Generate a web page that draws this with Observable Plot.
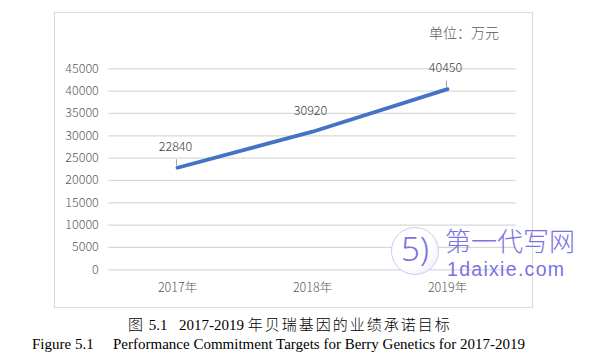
<!DOCTYPE html>
<html><head><meta charset="utf-8">
<script src="https://cdn.jsdelivr.net/npm/d3@7"></script>
<script src="https://cdn.jsdelivr.net/npm/@observablehq/plot@0.6"></script>
<style>
html,body{margin:0;padding:0;background:#fff;}
#wrap{position:relative;width:593px;height:353px;overflow:hidden;font-family:"Noto Sans CJK SC",sans-serif;}
#box{position:absolute;left:54px;top:12px;width:477px;height:294px;border:1px solid #d9d9d9;}
#chart{position:absolute;left:0;top:0;}
#chart text{font-weight:300;}
#unit{position:absolute;left:429px;top:23px;font-size:14px;line-height:18px;color:#595959;font-weight:300;}
.cap{position:absolute;font-family:"Liberation Serif","Noto Sans CJK SC",serif;font-size:15px;line-height:16px;color:#000;white-space:pre;}
.cjk{letter-spacing:2px;font-weight:300;}
#wm{position:absolute;left:445px;top:227px;color:#7a73e2;white-space:pre;font-weight:300;font-size:26px;line-height:26px;}
#wm .dom{display:block;margin-top:8px;margin-left:2px;font-family:"Liberation Sans",sans-serif;font-size:19.5px;line-height:16px;letter-spacing:1.3px;font-weight:400;}
#logo{position:absolute;left:391px;top:227px;width:46px;height:46px;border-radius:50%;border:1.5px solid #cdcaf5;background:radial-gradient(circle at 35% 35%, #ffffff 55%, #e6e4fb 100%);}
#logo span{position:absolute;left:9px;top:1px;font-size:33px;line-height:40px;color:#7a73e2;font-family:"Noto Sans",sans-serif;font-weight:300;}
</style></head>
<body>
<div id="wrap">
  <div id="box"></div>
  <div id="chart"></div>
  <div id="unit">单位：万元</div>
  <div id="logo"><span>5)</span></div>
  <div id="wm">第一代写网<span class="dom">1daixie.com</span></div>
  <div class="cap" style="left:128px;top:317px;"><span class="cjk">图</span> 5.1</div>
  <div class="cap" style="left:179px;top:317px;">2017-2019 <span class="cjk">年贝瑞基因的业绩承诺目标</span></div>
  <div class="cap" style="left:32px;top:336px;">Figure 5.1</div>
  <div class="cap" style="left:113px;top:336px;">Performance Commitment Targets for Berry Genetics for 2017-2019</div>
</div>
<script>
const years = ["2017年", "2018年", "2019年"];
const targets = [22840, 30920, 40450];
const yTicks = [0, 5000, 10000, 15000, 20000, 25000, 30000, 35000, 40000, 45000];
const leaderYears = ["2017年", "2019年"];

const data = years.map((y, i) => ({year: y, value: targets[i]}));
const leaders = data.filter(d => leaderYears.includes(d.year));

const chart = Plot.plot({
  width: 593,
  height: 310,
  marginLeft: 108.3,
  marginRight: 77.3,
  marginTop: 68.3,
  marginBottom: 40.7,
  style: {background: "transparent", fontFamily: "'Noto Sans CJK SC', sans-serif", overflow: "visible"},
  x: {type: "point", domain: years, padding: 0.5},
  y: {domain: [0, 45000]},
  marks: [
    Plot.gridY(yTicks, {stroke: "#d9d9d9", strokeOpacity: 1, strokeWidth: 1.2}),
    Plot.axisY(yTicks, {tickSize: 0, tickPadding: 10, fontSize: 12.5, color: "#595959", label: null, tickFormat: d => String(d)}),
    Plot.axisX({tickSize: 0, tickPadding: 13.5, fontSize: 12.5, color: "#595959", label: null}),
    Plot.ruleX(leaders, {x: "year", y1: d => d.value + 350, y2: d => d.value + 1800, dx: -1, stroke: "#a6a6a6", strokeWidth: 1}),
    Plot.line(data, {x: "year", y: "value", stroke: "#4472c4", strokeWidth: 3.8, strokeLinecap: "round"}),
    Plot.text(data, {x: "year", y: "value", text: d => String(d.value), dy: -21, dx: -2, fill: "#404040", fontSize: 12.5})
  ]
});
document.getElementById("chart").appendChild(chart);
</script>
</body></html>
